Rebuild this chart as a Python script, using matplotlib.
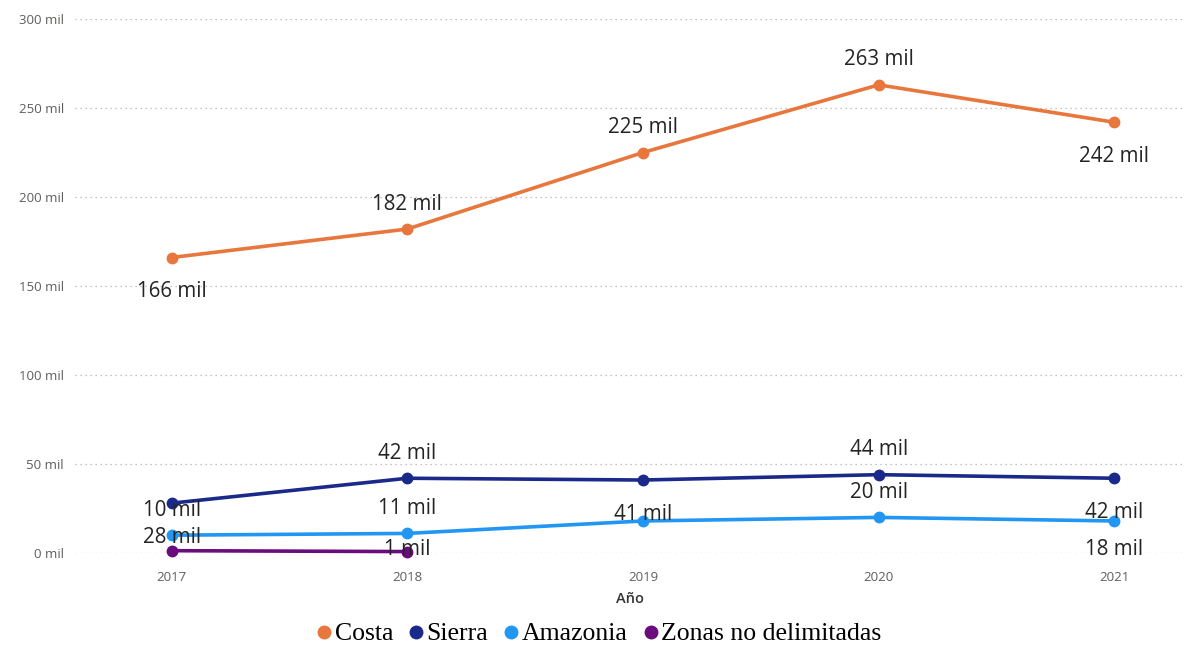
import matplotlib
matplotlib.use("Agg")
import matplotlib.pyplot as plt
from matplotlib.lines import Line2D

years = ["2017", "2018", "2019", "2020", "2021"]
series_names = ["Costa", "Sierra", "Amazonia", "Zonas no delimitadas"]
costa = [166, 182, 225, 263, 242]
sierra = [28, 42, 41, 44, 42]
amazonia = [10, 11, 18, 20, 18]
zonas = [1.3, 0.8]
# label placement per point ('a' above, 'b' below, None = hidden)
costa_pos = ['b', 'a', 'a', 'a', 'b']
sierra_pos = ['b', 'a', 'b', 'a', 'b']
amazonia_pos = ['a', 'a', None, 'a', 'b']
zonas_pos = [None, 'b']
yticks = [0, 50, 100, 150, 200, 250, 300]
ytick_labels = ["0 mil", "50 mil", "100 mil", "150 mil", "200 mil", "250 mil", "300 mil"]

colors = ["#E8773D", "#1B2A8A", "#2196F3", "#6A0C7B"]

W, H = 1195, 647
fig = plt.figure(figsize=(W / 100, H / 100), dpi=100)
ax = fig.add_axes([75 / W, 1 - 553 / H, (1185 - 75) / W, (553 - 19) / H])
ax.set_xlim(-0.41, 4.3)
ax.set_ylim(0, 300)

# pixel -> data scale for label offsets
px_per_unit = (553 - 19) / 300.0
floor_y = 1.7  # labels are kept inside the plot area

all_data = [costa, sierra, amazonia, zonas]
all_pos = [costa_pos, sierra_pos, amazonia_pos, zonas_pos]
for vals, pos, c in zip(all_data, all_pos, colors):
    xs = list(range(len(vals)))
    ax.plot(xs, vals, color=c, lw=2.6, marker='o', ms=7.5, clip_on=False, zorder=3)
    for x, v, p in zip(xs, vals, pos):
        if p is None:
            continue
        if p == 'a':
            ly = v + 25 / px_per_unit
        else:
            ly = max(v - 34 / px_per_unit, floor_y)
        ax.text(x, ly, f"{round(v):d} mil", ha='center', va='center', fontsize=14.8,
                color='#252423', zorder=4, family=['Open Sans', 'DejaVu Sans'])

ax.set_xticks(range(len(years)))
ax.set_xticklabels(years, color='#605E5C', fontsize=9.5, family=['Open Sans', 'DejaVu Sans'])
ax.set_yticks(yticks)
ax.set_yticklabels(ytick_labels, color='#605E5C', fontsize=9.5, family=['Open Sans', 'DejaVu Sans'])
ax.tick_params(length=0)
ax.tick_params(axis='x', pad=13)
ax.tick_params(axis='y', pad=8)
ax.grid(axis='y', linestyle=(0, (1, 3)), color='#B0B0B0', lw=0.9)
ax.set_axisbelow(True)
for s in ax.spines.values():
    s.set_visible(False)
ax.set_xlabel("Año", color='#333333', fontsize=10.5, labelpad=6, fontweight='semibold',
              family=['Open Sans', 'DejaVu Sans'])

handles = [Line2D([], [], marker='o', color=c, linestyle='None', markersize=9) for c in colors]
fig.legend(handles, series_names, loc='center', bbox_to_anchor=(595 / W, 1 - 634 / H),
           ncol=4, frameon=False, prop={'family': 'Liberation Serif', 'size': 18.5},
           handletextpad=-0.2, columnspacing=0.3, handlelength=1.2, borderpad=0)

fig.savefig("out.png", dpi=100, facecolor='white')
